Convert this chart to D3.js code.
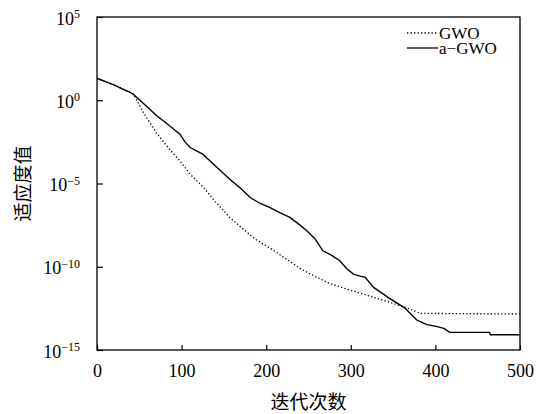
<!DOCTYPE html>
<html lang="zh">
<head>
<meta charset="UTF-8">
<title>GWO vs a-GWO</title>
<script src="https://d3js.org/d3.v7.min.js"></script>
<style>
    body{
        margin: 0;
        background: white;
    }
    svg{
        display: block;
        font-family: "Liberation Serif", "Times New Roman", serif;
    }
    .cjk{
        font-family: "Noto Sans CJK SC", sans-serif;
    }
</style>
</head>
<body>
<svg></svg>
<script>
    // iterations and log10 of fitness
    const gwoIter = [0, 10, 20, 30, 43, 55, 70, 85, 98, 110, 126, 140, 157, 172, 187, 205, 221, 240, 256, 275, 295, 315, 334, 350, 370, 382, 500];
    const gwoLog  = [1.32, 1.12, 0.92, 0.68, 0.36, -0.75, -1.94, -2.9, -3.64, -4.44, -5.24, -6.1, -7.04, -7.7, -8.34, -8.9, -9.44, -10.1, -10.54, -11.0, -11.34, -11.65, -11.94, -12.2, -12.54, -12.8, -12.84];

    const agwoIter = [0, 10, 20, 30, 38, 43, 55, 70, 85, 98, 104, 110, 125, 140, 157, 170, 181, 193, 204, 216, 228, 240, 248, 258, 267, 277, 287, 295, 303, 312, 317, 327, 344, 364, 372, 378, 390, 401, 410, 417, 464, 465, 500];
    const agwoLog  = [1.32, 1.12, 0.92, 0.68, 0.5, 0.36, -0.2, -0.9, -1.5, -2.04, -2.5, -2.84, -3.24, -3.95, -4.74, -5.3, -5.84, -6.2, -6.44, -6.75, -7.04, -7.5, -7.84, -8.34, -9.04, -9.3, -9.64, -10.1, -10.44, -10.58, -10.64, -11.24, -11.84, -12.48, -12.9, -13.2, -13.48, -13.58, -13.7, -13.94, -13.94, -14.08, -14.08];

    const xTicks = [0, 100, 200, 300, 400, 500];
    const yExps = [5, 0, -5, -10, -15];
    const seriesNames = ['GWO', 'a\u2212GWO'];

    const width = 545, height = 414;
    const margin = {left: 97, right: 25, top: 17, bottom: 64};

    const svg = d3.select('svg')
        .attr('width', width)
        .attr('height', height);

    const x = d3.scaleLinear()
        .domain([0, 500])
        .range([margin.left, width - margin.right]);
    const y = d3.scaleLog()
        .domain([1e-15, 1e5])
        .range([height - margin.bottom, margin.top]);

    /* x axis, ticks pointing inward */
    const xAxis = svg.append('g')
        .attr('transform', `translate(0,${height - margin.bottom})`)
        .call(d3.axisBottom(x).tickValues(xTicks).tickSize(-5).tickPadding(14));
    xAxis.select('.domain').remove();
    xAxis.selectAll('line').attr('stroke', '#000').attr('stroke-width', 1.2);
    xAxis.selectAll('text')
        .attr('font-family', '"Liberation Serif", serif')
        .attr('font-size', 18)
        .attr('fill', '#000');

    /* y axis with 10^n labels */
    const yAxis = svg.append('g')
        .attr('transform', `translate(${margin.left},0)`)
        .call(d3.axisLeft(y).tickValues(yExps.map(e => Math.pow(10, e))).tickSize(-6).tickPadding(17).tickFormat(''));
    yAxis.select('.domain').remove();
    yAxis.selectAll('line').attr('stroke', '#000').attr('stroke-width', 1.2);
    yAxis.selectAll('text')
        .attr('font-family', '"Liberation Serif", serif')
        .attr('font-size', 18)
        .attr('fill', '#000')
        .attr('dy', '0.4em')
        .each(function(d){
            const e = Math.round(Math.log10(d));
            const t = d3.select(this);
            t.append('tspan').text('10');
            t.append('tspan')
                .attr('dy', '-0.55em')
                .attr('font-size', 12)
                .text(String(e).replace('-', '\u2212'));
        });

    /* frame */
    svg.append('rect')
        .attr('x', margin.left)
        .attr('y', margin.top)
        .attr('width', width - margin.right - margin.left)
        .attr('height', height - margin.bottom - margin.top)
        .attr('fill', 'none')
        .attr('stroke', '#000')
        .attr('stroke-width', 1.3);

    const line = d3.line()
        .x(d => x(d[0]))
        .y(d => y(Math.pow(10, d[1])));

    const gwo = gwoIter.map((it, i) => [it, gwoLog[i]]);
    const agwo = agwoIter.map((it, i) => [it, agwoLog[i]]);

    svg.append('path')
        .datum(gwo)
        .attr('d', line)
        .attr('fill', 'none')
        .attr('stroke', '#000')
        .attr('stroke-width', 1.3)
        .attr('stroke-dasharray', '1.3,2.2');

    svg.append('path')
        .datum(agwo)
        .attr('d', line)
        .attr('fill', 'none')
        .attr('stroke', '#000')
        .attr('stroke-width', 1.4);

    /* legend */
    const legend = svg.append('g');
    seriesNames.forEach((name, i) => {
        const ly = 33 + i * 15;
        legend.append('line')
            .attr('x1', 407).attr('x2', 438)
            .attr('y1', ly).attr('y2', ly)
            .attr('stroke', '#000')
            .attr('stroke-width', 1.3)
            .attr('stroke-dasharray', i === 0 ? '1.3,2.2' : null);
        legend.append('text')
            .attr('x', 439)
            .attr('y', ly)
            .attr('dy', '0.33em')
            .attr('font-size', 17)
            .text(name);
    });

    /* axis titles */
    svg.append('text')
        .attr('class', 'cjk')
        .attr('x', x(250))
        .attr('y', 402)
        .attr('dy', '0.35em')
        .attr('text-anchor', 'middle')
        .attr('font-size', 19)
        .text('迭代次数');

    svg.append('text')
        .attr('class', 'cjk')
        .attr('transform', `translate(23,${y(1e-5)}) rotate(-90)`)
        .attr('dy', '0.35em')
        .attr('text-anchor', 'middle')
        .attr('font-size', 19)
        .text('适应度值');
</script>
</body>
</html>
